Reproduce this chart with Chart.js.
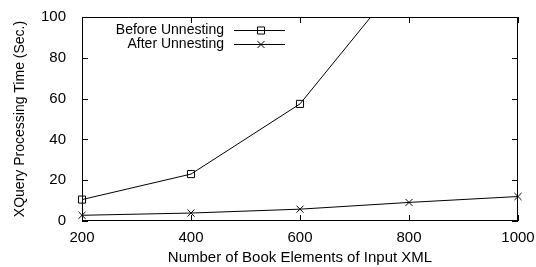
<!DOCTYPE html>
<html>
<head>
<meta charset="utf-8">
<script src="https://cdn.jsdelivr.net/npm/chart.js@4"></script>
<style>
  html, body { margin: 0; padding: 0; background: #fff; }
  #wrap { width: 536px; height: 267px; }
</style>
</head>
<body>
<div id="wrap"><canvas id="grafico"></canvas></div>
<script>
// datos
const elementos = [200, 400, 600, 800, 1000];
const antesUnnesting = [10.5, 23, 57.4, 123, null];
const despuesUnnesting = [2.8, 3.9, 5.8, 9.1, 12.0];
const ticksX = [200, 400, 600, 800, 1000];
const ticksY = [0, 20, 40, 60, 80, 100];

const nombres = ["Before Unnesting", "After Unnesting"];
const fuente = "Liberation Sans, Arial, Helvetica, sans-serif";

Chart.defaults.font.family = fuente;
Chart.defaults.font.size = 14;
Chart.defaults.color = "#000";

// marco con ticks hacia dentro y leyenda estilo gnuplot
const marcoGnuplot = {
  id: "marcoGnuplot",
  afterDraw(chart) {
    const { ctx, chartArea: a, scales } = chart;
    ctx.save();
    ctx.strokeStyle = "#000";
    ctx.lineWidth = 1;
    ctx.strokeRect(a.left + 0.5, a.top + 0.5, a.right - a.left - 1, a.bottom - a.top - 1);
    ctx.beginPath();
    ticksX.forEach((v) => {
      const x = Math.round(scales.x.getPixelForValue(v)) + 0.5;
      ctx.moveTo(x, a.bottom); ctx.lineTo(x, a.bottom - 6);
      ctx.moveTo(x, a.top); ctx.lineTo(x, a.top + 6);
    });
    ticksY.forEach((v) => {
      const y = Math.round(scales.y.getPixelForValue(v)) + 0.5;
      ctx.moveTo(a.left, y); ctx.lineTo(a.left + 6, y);
      ctx.moveTo(a.right, y); ctx.lineTo(a.right - 6, y);
    });
    ctx.stroke();

    // leyenda
    ctx.font = "14px " + fuente;
    ctx.textAlign = "right";
    ctx.textBaseline = "middle";
    const filas = [29.5, 43.5];
    chart.data.datasets.forEach((ds, i) => {
      const y = Math.round(filas[i]) + 0.5;
      ctx.fillStyle = "#000";
      ctx.fillText(nombres[i], 224, filas[i] + 1);
      ctx.beginPath();
      ctx.moveTo(234, y);
      ctx.lineTo(285, y);
      ctx.stroke();
      ctx.fillStyle = "rgba(0,0,0,0)";
      Chart.helpers.drawPoint(ctx, {
        pointStyle: ds.pointStyle, radius: 5, borderWidth: 1
      }, 261, y);
    });
    ctx.restore();
  }
};

const ctx = document.getElementById("grafico").getContext("2d");

new Chart(ctx, {
  type: "line",
  data: {
    datasets: [
      {
        label: nombres[0],
        data: elementos.map((x, i) => ({ x, y: antesUnnesting[i] })),
        borderColor: "#000",
        borderWidth: 1,
        pointStyle: "rect",
        pointRadius: 5,
        pointBorderColor: "#000",
        pointBackgroundColor: "rgba(0,0,0,0)",
        pointBorderWidth: 1,
        tension: 0,
        clip: { left: 10, right: 10, top: 0, bottom: 10 }
      },
      {
        label: nombres[1],
        data: elementos.map((x, i) => ({ x, y: despuesUnnesting[i] })),
        borderColor: "#000",
        borderWidth: 1,
        pointStyle: "crossRot",
        pointRadius: 5,
        pointBorderColor: "#000",
        pointBorderWidth: 1,
        tension: 0,
        clip: false
      }
    ]
  },
  options: {
    responsive: true,
    maintainAspectRatio: false,
    animation: false,
    layout: { padding: { left: 0, right: 18, top: 15, bottom: 0 } },
    plugins: {
      legend: { display: false },
      tooltip: { enabled: false }
    },
    scales: {
      x: {
        type: "linear",
        min: 200,
        max: 1000,
        afterBuildTicks: (s) => { s.ticks = ticksX.map((v) => ({ value: v })); },
        afterFit: (s) => { s.height = 46; s.paddingRight = 0; },
        grid: { display: false },
        border: { display: false },
        ticks: {
          padding: 0, maxRotation: 0, autoSkip: false,
          font: { size: 15 },
          callback: (v) => String(v)
        },
        title: {
          display: true,
          text: "Number of Book Elements of Input XML",
          font: { size: 15 },
          padding: { top: 0, bottom: 0 }
        }
      },
      y: {
        min: 0,
        max: 100,
        afterBuildTicks: (s) => { s.ticks = ticksY.map((v) => ({ value: v })); },
        afterFit: (s) => { s.width = 82; },
        grid: { display: false },
        border: { display: false },
        ticks: { padding: 8, font: { size: 15 }, callback: (v) => String(v) },
        title: {
          display: true,
          text: "XQuery Processing Time (Sec.)",
          padding: { top: 12, bottom: 0 }
        }
      }
    }
  },
  plugins: [marcoGnuplot]
});
</script>
</body>
</html>
